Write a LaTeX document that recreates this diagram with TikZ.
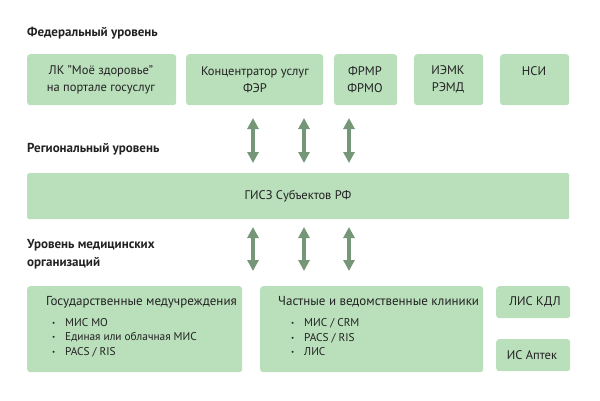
\documentclass[tikz,border=0pt]{standalone}
\usepackage{fontspec}
\setmainfont{PT Sans}
\usetikzlibrary{arrows.meta}
\definecolor{boxgreen}{RGB}{186,223,187}
\definecolor{arrowgreen}{RGB}{118,150,120}
\definecolor{inkgray}{RGB}{34,34,34}
\newcommand\blt{\makebox[13pt][l]{\raisebox{1pt}{\scriptsize\textbullet}}}
\begin{document}
\begin{tikzpicture}[x=1pt,y=-1pt,
  box/.style={fill=boxgreen, rounded corners=3pt, anchor=north west, inner sep=0pt},
  head/.style={anchor=west, inner sep=0pt, text=inkgray, font=\fontsize{13}{15}\selectfont\bfseries},
  txt/.style={inner sep=0pt, text=inkgray, align=center, font=\fontsize{12.5}{17}\selectfont},
  lst/.style={inner sep=0pt, anchor=west, text=inkgray, align=left, font=\fontsize{11.3}{14.5}\selectfont},
  link/.style={draw=arrowgreen, line width=4pt, {Triangle[width=11pt,length=11pt]}-{Triangle[width=11pt,length=11pt]}}]
\useasboundingbox (0,0) rectangle (600,400);
% federal level
\node[head] (hfed) at (27,33){Федеральный уровень};
\node[box, minimum width=149pt, minimum height=51pt] (fed1) at (27,54){};
\node[box, minimum width=137pt, minimum height=51pt] (fed2) at (186,54){};
\node[box, minimum width=63pt, minimum height=51pt] (fed3) at (334,54){};
\node[box, minimum width=69pt, minimum height=51pt] (fed4) at (414,54){};
\node[box, minimum width=69pt, minimum height=51pt] (fed5) at (500,54){};
\node[txt] (tfed1) at (101,79.5){ЛК "Моё здоровье"\\на портале госуслуг};
\node[txt] (tfed2) at (255,79.5){Концентратор услуг\\ФЭР};
\node[txt] (tfed3) at (365,79.5){ФРМР\\ФРМО};
\node[txt] (tfed4) at (448,79.5){ИЭМК\\РЭМД};
\node[txt] (tfed5) at (534,71){НСИ};
% regional level
\node[head] (hreg) at (27,149){Региональный уровень};
\node[box, rounded corners=2pt, minimum width=542pt, minimum height=46pt] (gisz) at (27,173){};
\node[txt] (tgisz) at (298,196){ГИСЗ Субъектов РФ};
\coordinate (up1a) at (253,118);
\coordinate (up1b) at (253,163);
\coordinate (up2a) at (304,118);
\coordinate (up2b) at (304,163);
\coordinate (up3a) at (349,118);
\coordinate (up3b) at (349,163);
\draw[link] (up1a) -- (up1b);
\draw[link] (up2a) -- (up2b);
\draw[link] (up3a) -- (up3b);
% medical organisations
\node[head, align=left, font=\fontsize{13}{18}\selectfont\bfseries] (hmed) at (27,254){Уровень медицинских\\организаций};
\coordinate (dn1a) at (253,227);
\coordinate (dn1b) at (253,271);
\coordinate (dn2a) at (304,227);
\coordinate (dn2b) at (304,271);
\coordinate (dn3a) at (349,227);
\coordinate (dn3b) at (349,271);
\draw[link] (dn1a) -- (dn1b);
\draw[link] (dn2a) -- (dn2b);
\draw[link] (dn3a) -- (dn3b);
\node[box, minimum width=215pt, minimum height=86pt] (gos) at (27,286){};
\node[box, minimum width=223pt, minimum height=86pt] (priv) at (260,286){};
\node[box, minimum width=74pt, minimum height=32pt] (lis) at (496,286){};
\node[box, minimum width=74pt, minimum height=32pt] (apt) at (496,339){};
\node[txt, anchor=west, font=\fontsize{13}{17}\selectfont] (tgos) at (46,302){Государственные медучреждения};
\node[lst] (lgos) at (52,337.5){\blt МИС МО\\\blt Единая или облачная МИС\\\blt PACS / RIS};
\node[txt, anchor=west, font=\fontsize{13}{17}\selectfont] (tpriv) at (278,302){Частные и ведомственные клиники};
\node[lst] (lpriv) at (291,337.5){\blt МИС / CRM\\\blt PACS / RIS\\\blt ЛИС};
\node[txt] (tlis) at (535,302){ЛИС КДЛ};
\node[txt] (tapt) at (532,355){ИС Аптек};
\end{tikzpicture}
\end{document}
